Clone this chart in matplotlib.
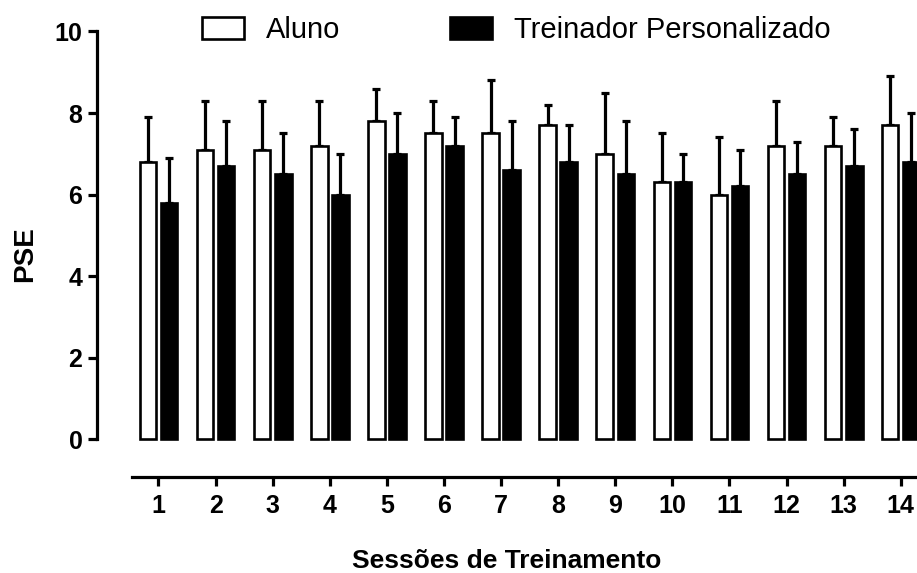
import numpy as np
import matplotlib.pyplot as plt

plt.rcParams['font.family'] = ['Liberation Sans', 'DejaVu Sans']

# Data (mean + upper SD)
sessoes = ['1', '2', '3', '4', '5', '6', '7', '8', '9', '10', '11', '12', '13', '14']
aluno = [6.8, 7.1, 7.1, 7.2, 7.8, 7.5, 7.5, 7.7, 7.0, 6.3, 6.0, 7.2, 7.2, 7.7]
aluno_sd = [1.1, 1.2, 1.2, 1.1, 0.8, 0.8, 1.3, 0.5, 1.5, 1.2, 1.4, 1.1, 0.7, 1.2]
treinador = [5.8, 6.7, 6.5, 6.0, 7.0, 7.2, 6.6, 6.8, 6.5, 6.3, 6.2, 6.5, 6.7, 6.8]
treinador_sd = [1.1, 1.1, 1.0, 1.0, 1.0, 0.7, 1.2, 0.9, 1.3, 0.7, 0.9, 0.8, 0.9, 1.2]

x = np.arange(1, len(sessoes) + 1)
w = 0.29
off = 0.185

fig = plt.figure(figsize=(9.17, 5.73), dpi=100)
ax = fig.add_axes([97 / 917, 96 / 573, 1 - 97 / 917, (477 - 31.5) / 573])

ax.bar(x - off, aluno, w, color='white', edgecolor='black', linewidth=1.9,
       label='Aluno', zorder=2)
ax.bar(x + off, treinador, w, color='black', edgecolor='black', linewidth=1.9,
       label='Treinador Personalizado', zorder=2)

# only the upper half of the error bars
ax.errorbar(x - off, aluno, yerr=[np.zeros(len(x)), aluno_sd], fmt='none',
            ecolor='black', elinewidth=2.3, capsize=2.6, capthick=2.3, zorder=1)
ax.errorbar(x + off, treinador, yerr=[np.zeros(len(x)), treinador_sd], fmt='none',
            ecolor='black', elinewidth=2.3, capsize=2.6, capthick=2.3, zorder=1)

ax.set_xlim(-0.077, 14.284)
ax.set_ylim(-0.93, 10)
ax.set_yticks([0, 2, 4, 6, 8, 10])
ax.set_xticks(x)
ax.set_xticklabels(sessoes)

for s in ['top', 'right']:
    ax.spines[s].set_visible(False)
ax.spines['left'].set_bounds(0, 10)
ax.spines['bottom'].set_bounds(0.536, 20)
ax.spines['left'].set_linewidth(2.3)
ax.spines['bottom'].set_linewidth(2.3)

ax.tick_params(axis='both', length=6.5, width=2.3, labelsize=18)
ax.tick_params(axis='y', pad=4)
ax.tick_params(axis='x', pad=6)
for lab in ax.get_xticklabels() + ax.get_yticklabels():
    lab.set_fontweight('bold')

ax.set_ylabel('PSE', fontsize=20, fontweight='bold', labelpad=12)
ax.set_xlabel('Sessões de Treinamento', fontsize=19, fontweight='bold', labelpad=22)

fig.legend(loc='upper left', bbox_to_anchor=(202 / 917, 1 - 16 / 573), ncol=2,
           frameon=False, fontsize=21, handlelength=1.44, handleheight=0.75,
           handletextpad=0.75, columnspacing=3.75, borderpad=0, borderaxespad=0)

fig.savefig('out.png', dpi=100)
